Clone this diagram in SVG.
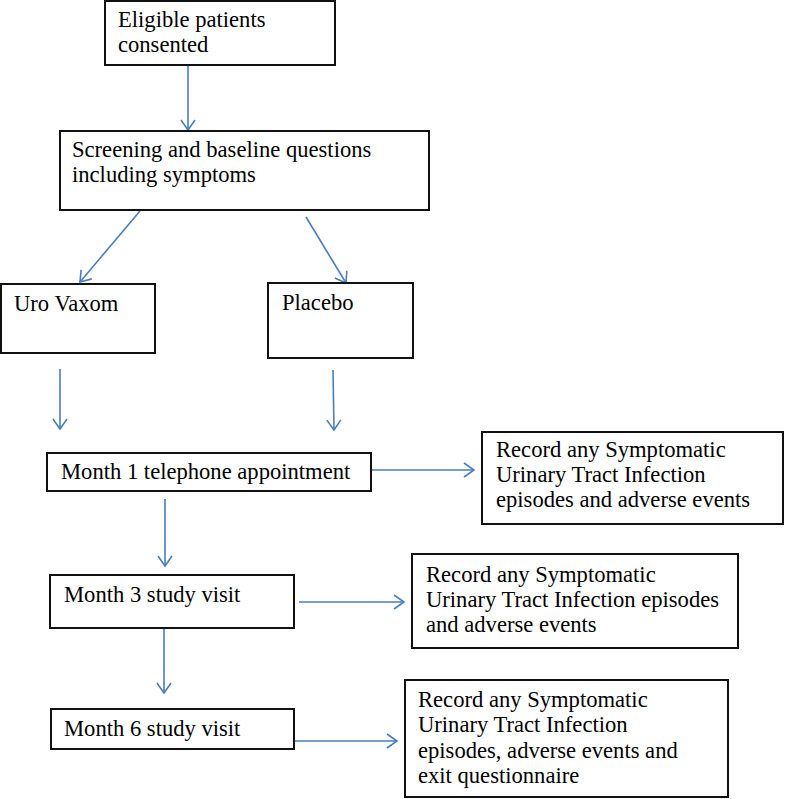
<svg xmlns="http://www.w3.org/2000/svg" width="785" height="799" viewBox="0 0 785 799">
<style>
.box{fill:#fff;stroke:#111;stroke-width:2}
.t{font-family:"Liberation Serif","Times New Roman",serif;font-size:22.6px;fill:#000}
.c{fill:none;stroke:#4a7ebb;stroke-width:1.6}
</style>
<defs>
<marker id="ah" markerUnits="userSpaceOnUse" markerWidth="13" markerHeight="16" viewBox="0 0 13 16" refX="11" refY="8" orient="auto">
<path d="M1,1 L11,8 L1,15" fill="none" stroke="#4a7ebb" stroke-width="1.6"/>
</marker>
</defs>
<rect width="785" height="799" fill="#fff"/>
<g id="connectors">
<line class="c" x1="188" y1="65" x2="188" y2="130" marker-end="url(#ah)"/>
<line class="c" x1="140" y1="211" x2="80" y2="282" marker-end="url(#ah)"/>
<line class="c" x1="306" y1="217" x2="346" y2="283" marker-end="url(#ah)"/>
<line class="c" x1="60" y1="369" x2="60" y2="429" marker-end="url(#ah)"/>
<line class="c" x1="333" y1="370" x2="334" y2="430" marker-end="url(#ah)"/>
<line class="c" x1="371" y1="470" x2="474" y2="470" marker-end="url(#ah)"/>
<line class="c" x1="165" y1="499" x2="165" y2="566" marker-end="url(#ah)"/>
<line class="c" x1="299" y1="602" x2="404" y2="602" marker-end="url(#ah)"/>
<line class="c" x1="164" y1="628" x2="164" y2="693" marker-end="url(#ah)"/>
<line class="c" x1="294" y1="741" x2="397" y2="741" marker-end="url(#ah)"/>
</g>
<g id="n_eligible">
<rect class="box" x="105" y="1" width="230" height="64"/>
<text class="t" x="118" y="27">Eligible patients</text>
<text class="t" x="118" y="52">consented</text>
</g>
<g id="n_screening">
<rect class="box" x="60" y="131" width="369" height="79"/>
<text class="t" x="72" y="157">Screening and baseline questions</text>
<text class="t" x="72" y="182">including symptoms</text>
</g>
<g id="n_urovaxom">
<rect class="box" x="1" y="284" width="154" height="69"/>
<text class="t" x="14" y="311">Uro Vaxom</text>
</g>
<g id="n_placebo">
<rect class="box" x="268" y="283" width="145" height="75"/>
<text class="t" x="282" y="310">Placebo</text>
</g>
<g id="n_month1">
<rect class="box" x="47" y="453" width="324" height="38"/>
<text class="t" x="61" y="479">Month 1 telephone appointment</text>
</g>
<g id="n_record1">
<rect class="box" x="482" y="432" width="301" height="92"/>
<text class="t" x="496" y="457">Record any Symptomatic</text>
<text class="t" x="496" y="482">Urinary Tract Infection</text>
<text class="t" x="496" y="507">episodes and adverse events</text>
</g>
<g id="n_month3">
<rect class="box" x="50" y="575" width="244" height="53"/>
<text class="t" x="64" y="602">Month 3 study visit</text>
</g>
<g id="n_record2">
<rect class="box" x="412" y="554" width="326" height="94"/>
<text class="t" x="426" y="582">Record any Symptomatic</text>
<text class="t" x="426" y="607">Urinary Tract Infection episodes</text>
<text class="t" x="426" y="632">and adverse events</text>
</g>
<g id="n_month6">
<rect class="box" x="51" y="709" width="243" height="40"/>
<text class="t" x="64" y="736">Month 6 study visit</text>
</g>
<g id="n_record3">
<rect class="box" x="405" y="680" width="323" height="117"/>
<text class="t" x="418" y="707">Record any Symptomatic</text>
<text class="t" x="418" y="732">Urinary Tract Infection</text>
<text class="t" x="418" y="758">episodes, adverse events and</text>
<text class="t" x="418" y="783">exit questionnaire</text>
</g>
</svg>
